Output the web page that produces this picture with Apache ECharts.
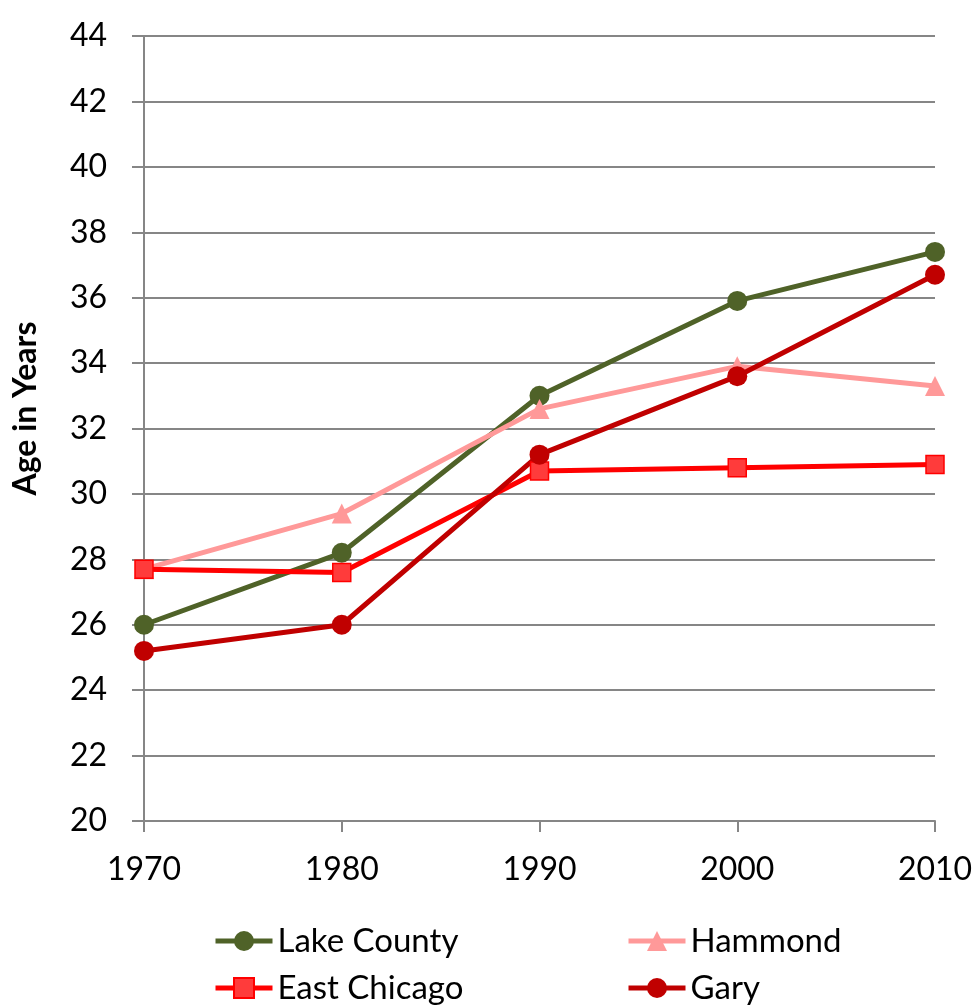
<!DOCTYPE html>
<html>
<head>
<meta charset="utf-8">
<title>Median Age</title>
<script src="https://cdn.jsdelivr.net/npm/echarts@6/dist/echarts.min.js"></script>
<style>
    html, body { margin: 0; padding: 0; background: #fff; }
    #main { width: 974px; height: 1007px; }
</style>
</head>
<body>
<div id="main"></div>
<script>
    // 数据
    var years = ['1970', '1980', '1990', '2000', '2010'];
    var lakeCounty = [26.0, 28.2, 33.0, 35.9, 37.4];
    var hammond = [27.7, 29.4, 32.6, 33.9, 33.3];
    var eastChicago = [27.7, 27.6, 30.7, 30.8, 30.9];
    var gary = [25.2, 26.0, 31.2, 33.6, 36.7];

    var font = 'Lato';
    var gridColor = '#868686';

    var myChart = echarts.init(document.getElementById('main'));

    function lineSeries(name, data, color, symbol, size, markerStyle) {
        return {
            name: name,
            type: 'line',
            data: data,
            symbol: symbol,
            symbolSize: size,
            showAllSymbol: true,
            lineStyle: { color: color, width: 5 },
            itemStyle: markerStyle || { color: color },
            emphasis: { disabled: true },
            animation: false
        };
    }

    // 图例：每项单独放置，排成两列
    function legendItem(name, left, top) {
        return {
            left: left,
            top: top,
            itemWidth: 57,
            itemHeight: 25,
            itemGap: 0,
            lineStyle: { width: 5 },
            textStyle: { fontFamily: font, fontSize: 33, color: '#000', lineHeight: 36 },
            data: [name]
        };
    }

    option = {
        backgroundColor: '#fff',
        grid: { left: 144, right: 39, top: 36, bottom: 186, outerBoundsMode: 'none' },
        legend: [
            legendItem('Lake County', 208, 918),
            legendItem('East Chicago', 208, 965),
            legendItem('Hammond', 621, 918),
            legendItem('Gary', 621, 965)
        ],
        xAxis: {
            type: 'category',
            data: years,
            boundaryGap: false,
            axisLine: { lineStyle: { color: gridColor, width: 2 } },
            axisTick: { show: true, length: 11, alignWithLabel: true, lineStyle: { color: gridColor, width: 2 } },
            axisLabel: { fontFamily: font, fontSize: 32, color: '#000', margin: 33 },
            splitLine: { show: false }
        },
        yAxis: {
            type: 'value',
            min: 20,
            max: 44,
            interval: 2,
            name: 'Age in Years',
            nameLocation: 'middle',
            nameGap: 102,
            nameTextStyle: { fontFamily: font, fontSize: 32, fontWeight: 'bold', color: '#000', padding: [0, 0, 0, 40] },
            axisLine: { show: true, lineStyle: { color: gridColor, width: 2 } },
            axisTick: { show: true, length: 12, lineStyle: { color: gridColor, width: 2 } },
            axisLabel: { fontFamily: font, fontSize: 32, color: '#000', margin: 37 },
            splitLine: { lineStyle: { color: gridColor, width: 2 } }
        },
        series: [
            lineSeries('Lake County', lakeCounty, '#4F6228', 'circle', 20),
            lineSeries('Hammond', hammond, '#FF9999', 'triangle', 20),
            lineSeries('East Chicago', eastChicago, '#FF0000', 'rect', 18,
                { color: '#FF3B3B', borderColor: '#FF0000', borderWidth: 1.5 }),
            lineSeries('Gary', gary, '#C00000', 'circle', 20)
        ]
    };

    myChart.setOption(option);
</script>
</body>
</html>
